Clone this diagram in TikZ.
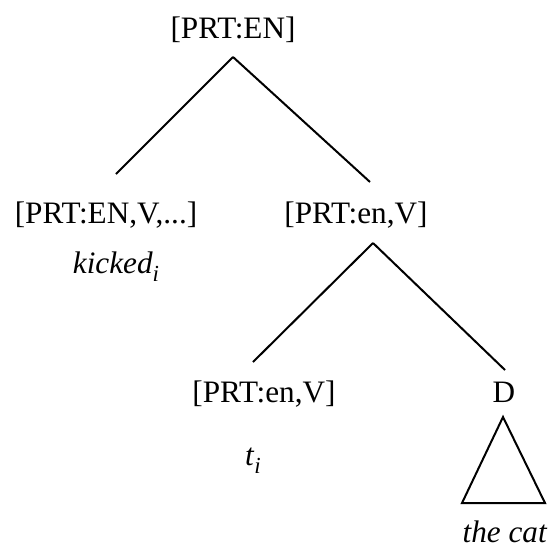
\documentclass[tikz,border=0pt]{standalone}
\usepackage{fontspec}
\setmainfont{Liberation Serif}

\newcommand{\idx}[1]{\raisebox{-4pt}{\fontsize{11.5}{12}\selectfont\textit{#1}}}

\begin{document}
\begin{tikzpicture}[x = 0.5pt, y = -0.5pt, % one unit = one pixel of the layout
                line width = 1pt % line style
            ]

            \tikzstyle{every node}=[inner sep = 0pt, anchor = base,
            font = \fontsize{15.6}{18}\selectfont]

            \useasboundingbox (0,0) rectangle (549,547);

            \node (top) at (233,38) {[PRT:EN]};
            \node (verb) at (106,223) {[PRT:EN,V,...]};
            \node (kicked) at (116,273) {\textit{kicked}\idx{i}};
            \node (vp) at (356,223) {[PRT:en,V]};
            \node (trace) at (264,402) {[PRT:en,V]};
            \node (t) at (253,465) {\textit{t}\idx{i}};
            \node (D) at (504,402) {D};
            \node (cat) at (505,542) {\textit{the cat}};

            \draw ([shift={(0,19)}]top.base) -- ([shift={(10,-49)}]verb.base);
            \draw ([shift={(0,19)}]top.base) -- ([shift={(14,-41)}]vp.base);
            \draw ([shift={(17,20)}]vp.base) -- ([shift={(-11,-40)}]trace.base);
            \draw ([shift={(17,20)}]vp.base) -- ([shift={(1,-32)}]D.base);

            % triangle for the cat
            \draw ([shift={(-1,15)}]D.base) -- ++(-41,86) -- ++(83,0) -- cycle;

        \end{tikzpicture}
\end{document}
